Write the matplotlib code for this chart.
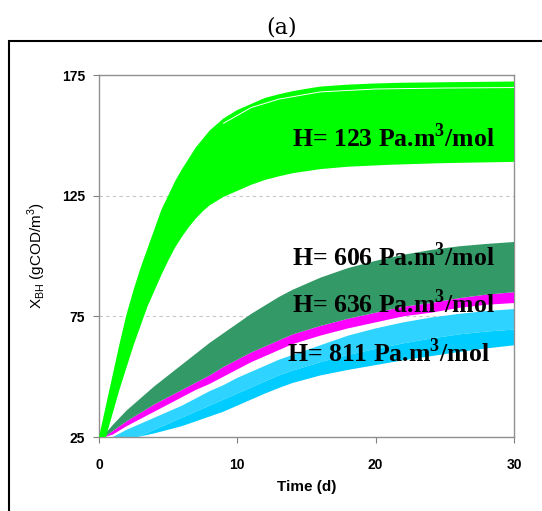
import matplotlib
matplotlib.use("Agg")
import matplotlib.pyplot as plt
from matplotlib.patches import Rectangle

plt.rcParams['mathtext.fontset'] = 'custom'
plt.rcParams['mathtext.bf'] = 'Liberation Serif:bold'
plt.rcParams['mathtext.rm'] = 'Liberation Serif:bold'
plt.rcParams['mathtext.sf'] = 'Liberation Sans'

# ---- envelopes of each simulation band ----
# H = 123 Pa.m3/mol (bright green)
g_up_t = [0, 0.5, 1, 1.5, 2, 2.5, 3, 3.5, 4, 4.5, 5, 5.5, 6, 6.5, 7, 7.5, 8,
          9, 10, 11, 12, 13, 14, 15, 16, 18, 20, 22, 25, 30]
g_up_v = [25, 38, 51, 64, 76, 86, 95, 103, 111, 119, 125, 131, 136, 140.5, 145, 148.5, 152,
          157, 160.5, 163, 165.5, 167, 168.3, 169.3, 170.2, 171, 171.5, 171.8, 172, 172.3]
g_lo_t = [0.5, 1, 1.5, 2, 2.5, 3, 3.5, 4, 4.5, 5, 5.5, 6, 6.5, 7, 7.5, 8,
          9, 10, 11, 12, 13, 14, 16, 18, 21, 25, 30]
g_lo_v = [25, 35, 45, 54, 63, 71, 79, 85.5, 92, 98, 103.5, 108, 112, 115.5, 118.5, 121,
          124.5, 127, 129.5, 131.5, 133, 134.3, 136, 137, 137.8, 138.5, 139]
g_gap_t = [9, 11, 13, 16, 20, 25, 30]
g_gap_v = [155, 161.5, 165, 168, 169.2, 169.6, 169.8]

# H = 606 Pa.m3/mol (sea green), upper edge
dg_up_t = [0.4, 1, 2, 3, 4, 5, 6, 7, 8, 9, 10, 11, 12, 13, 14, 15, 16, 17, 18,
           20, 22, 24, 26, 28, 30]
dg_up_v = [26, 30, 36, 41, 46, 50.5, 55, 59.5, 64, 68, 72, 76, 79.5, 83, 86, 88.5, 91, 93, 95,
           98, 100.5, 102.5, 104, 105, 105.8]

# H = 636 Pa.m3/mol (magenta)
m_t = [0.4, 1, 2, 3, 4, 5, 6, 7, 8, 9, 10, 11, 12, 13, 14, 16, 18, 20, 22, 24, 26, 28, 30]
m_up_v = [25, 27.5, 31.5, 35, 38.5, 41.5, 44.5, 47.5, 50.5, 54, 57, 60, 62.5, 65, 67.5,
          71, 74, 76.5, 79, 80.5, 82.5, 84, 85]
m_lo_v = [25, 26, 29.5, 32.5, 35.5, 38.5, 41.5, 44.5, 47, 50, 53, 56, 58.5, 61, 63.5,
          67, 70, 72.5, 75, 76.5, 78.5, 79.8, 80.5]

# H = 811 Pa.m3/mol (cyan)
c_up_t = [1, 2, 3, 4, 5, 6, 7, 8, 9, 10, 11, 12, 13, 14, 16, 18, 20, 22, 24, 26, 28, 30]
c_up_v = [25, 28, 30.5, 33, 35.5, 38, 41, 44, 46.5, 49.5, 52, 54.5, 57, 59, 63, 67, 70,
          72.5, 74.5, 76, 77.2, 78]
c_lo_t = [2.8, 4, 5, 6, 7, 8, 9, 10, 11, 12, 13, 14, 16, 18, 20, 22, 24, 26, 28, 30]
c_mid_v = [25, 28, 30.5, 33, 35.5, 38, 40.5, 43, 45.5, 48, 50.5, 52.5, 56, 59, 61.5,
           63.8, 65.8, 67.5, 68.7, 69.5]
c_lo_v = [25, 26.5, 28, 29.5, 31.5, 33.5, 35.5, 38, 40.5, 43, 45.3, 47.4, 50.5, 52.8,
          54.8, 56.8, 58.5, 60.2, 61.7, 63]

labels = ["H= 123 Pa.m$^{\\mathbf{3}}$/mol", "H= 606 Pa.m$^{\\mathbf{3}}$/mol",
          "H= 636 Pa.m$^{\\mathbf{3}}$/mol", "H= 811 Pa.m$^{\\mathbf{3}}$/mol"]
xticks = [0, 10, 20, 30]
yticks = [25, 75, 125, 175]

fig = plt.figure(figsize=(5.42, 5.11), dpi=100)
ax = fig.add_axes([99 / 542, 74 / 511, 415 / 542, 362 / 511])

# cyan band: dotted light upper part, solid lower part
ax.fill(c_up_t + c_lo_t[::-1], c_up_v + c_mid_v[::-1], color='#2fd3ff', lw=0, zorder=2)
ax.fill(c_lo_t + c_lo_t[::-1], c_mid_v + c_lo_v[::-1], color='#00ccff', lw=0, zorder=2)
# magenta
ax.fill(m_t + m_t[::-1], m_up_v + m_lo_v[::-1], color='#ff00ff', lw=0, zorder=3)
# sea green
ax.fill(dg_up_t + m_t[::-1], dg_up_v + m_up_v[::-1], color='#339966', lw=0, zorder=4)
# bright green
ax.fill(g_up_t + g_lo_t[::-1], g_up_v + g_lo_v[::-1], color='#00ff00', lw=0, zorder=5)
ax.plot(g_gap_t, g_gap_v, color='white', lw=0.7, zorder=6)

txt = dict(fontsize=18.5, va='baseline', ha='left', zorder=8)
ax.text(13.95, 145.2, labels[0], **txt)
ax.text(13.95, 95.9, labels[1], **txt)
ax.text(13.95, 76.4, labels[2], **txt)
ax.text(13.6, 56.0, labels[3], **txt)
for t in ax.texts:
    t.set_fontfamily('Liberation Serif')
    t.set_fontweight('bold')

ax.set_xlim(0, 30)
ax.set_ylim(25, 175)
ax.set_xticks(xticks)
ax.set_yticks(yticks)
ax.set_xticklabels([str(v) for v in xticks], fontfamily='Liberation Sans',
                   fontweight='bold', fontsize=10)
ax.set_yticklabels([str(v) for v in yticks], fontfamily='Liberation Sans',
                   fontweight='bold', fontsize=10)
ax.tick_params(axis='x', direction='out', length=4, pad=11, color='#808080')
ax.tick_params(axis='y', direction='out', length=4, pad=6, color='#808080')
for s in ax.spines.values():
    s.set_color('#909090')
    s.set_linewidth(1)
ax.yaxis.grid(True, linestyle=(0, (3, 3)), color='#c8c8c8', lw=0.8)
ax.set_axisbelow(True)

ax.set_xlabel('Time (d)', fontfamily='Liberation Sans', fontweight='bold',
              fontsize=11, labelpad=6)
ax.set_ylabel('X$_{\\mathsf{BH}}$ (gCOD/m$^{\\mathsf{3}}$)', fontfamily='Liberation Sans',
              fontsize=11, labelpad=10)

fig.patches.append(Rectangle((8.5 / 542, -0.1), 1.2, 1 - 41 / 511 + 0.1,
                             transform=fig.transFigure, fill=False,
                             ec='black', lw=1.5))
fig.text(282 / 542, 1 - 27 / 511, '(a)', family='DejaVu Serif', fontsize=16,
         ha='center', va='center')

fig.savefig('out.png', dpi=100)
